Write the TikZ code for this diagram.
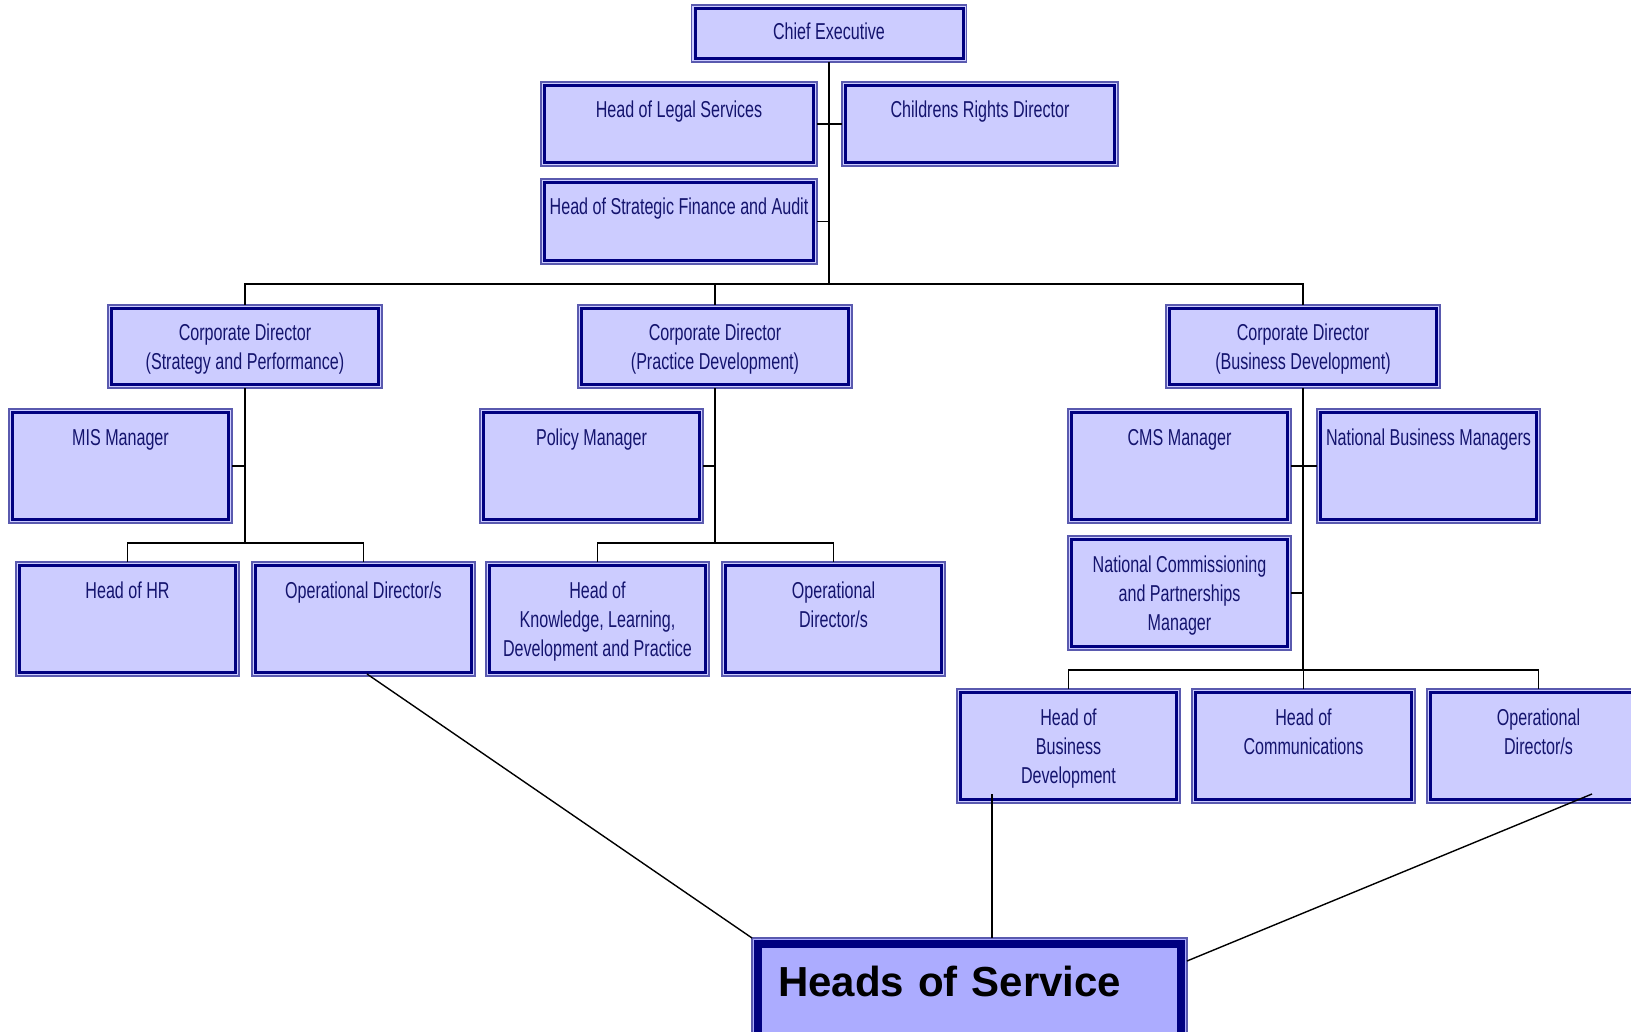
\documentclass[tikz,border=0pt]{standalone}
\usepackage{fontspec}
\usetikzlibrary{calc}
\newfontfamily\orgfont[FakeStretch=0.7]{Liberation Sans}
\newfontfamily\hosfont{Liberation Sans}
\definecolor{boxfill}{RGB}{204,204,255}
\definecolor{hosfill}{RGB}{172,172,255}
\definecolor{boxedge}{RGB}{90,90,175}
\definecolor{navyline}{RGB}{0,0,128}
\definecolor{navytext}{RGB}{20,20,110}
\tikzset{
  % framed box: thin outer edge plus a thick navy inner frame;
  % args: width, height above the last baseline, depth below it
  orgbox/.style n args={3}{
    draw=boxedge, line width=1.2, fill=boxfill, anchor=north,
    outer sep=0, inner xsep=2, inner ysep=0,
    minimum width=#1, text height=#2, text depth=#3,
    align=center, text=navytext,
    font=\orgfont\fontsize{23}{29}\selectfont,
    path picture={\draw[navyline, line width=3]
      ([xshift=3.5,yshift=-3.5]path picture bounding box.north west) rectangle
      ([xshift=-3.5,yshift=3.5]path picture bounding box.south east);}
  },
  hosbox/.style={
    draw=boxedge, line width=1.2, fill=hosfill, anchor=north,
    outer sep=0, inner xsep=26, inner ysep=0,
    text width=383, text height=58, text depth=49,
    align=left, text=black,
    font=\hosfont\fontsize{42}{50}\selectfont\bfseries,
    path picture={\draw[navyline, line width=8]
      ([xshift=6,yshift=-6]path picture bounding box.north west) rectangle
      ([xshift=-6,yshift=6]path picture bounding box.south east);}
  },
  wire/.style={draw=black, line width=1.4}
}
\begin{document}
\begin{tikzpicture}[x=1pt, y=-1pt]
\useasboundingbox[fill=white] (0,0) rectangle (1631,1032);

% top level
\node[orgbox={275}{35}{22}] (ce) at (829,5) {Chief Executive};
\node[orgbox={276}{36}{48}] (legal) at (679,82) {Head of Legal Services};
\node[orgbox={276}{36}{48}] (rights) at (980,82) {Childrens Rights Director};
\node[orgbox={276}{36}{49}] (fin) at (679,179) {Head of Strategic Finance and Audit};

% corporate directors
\node[orgbox={274}{64.5}{18.5}] (cdS) at (245,305) {Corporate Director\\(Strategy and Performance)};
\node[orgbox={274}{64.5}{18.5}] (cdP) at (715,305) {Corporate Director\\(Practice Development)};
\node[orgbox={274}{64.5}{18.5}] (cdB) at (1303,305) {Corporate Director\\(Business Development)};

% managers
\node[orgbox={223}{36}{78}] (mis) at (120.5,409) {MIS Manager};
\node[orgbox={223}{36}{78}] (policy) at (591.5,409) {Policy Manager};
\node[orgbox={223}{36}{78}] (cms) at (1179.5,409) {CMS Manager};
\node[orgbox={223}{36}{78}] (nbm) at (1428.5,409) {National Business Managers};
\node[orgbox={223}{94}{20}] (ncp) at (1179.5,536) {National Commissioning\\and Partnerships\\Manager};

% heads and operational directors
\node[orgbox={223}{36}{78}] (hr) at (127.5,562) {Head of HR};
\node[orgbox={223}{36}{78}] (opS) at (363.5,562) {Operational Director/s};
\node[orgbox={223}{94}{20}] (hk) at (597.5,562) {Head of\\Knowledge, Learning,\\Development and Practice};
\node[orgbox={223}{65}{49}] (opP) at (833.5,562) {Operational\\Director/s};
\node[orgbox={223}{94}{20}] (hbd) at (1068.5,689) {Head of\\Business\\Development};
\node[orgbox={223}{65}{49}] (hc) at (1303.5,689) {Head of\\Communications};
\node[orgbox={223}{65}{49}] (opB) at (1538.5,689) {Operational\\Director/s};

\node[hosbox] (hos) at (969.5,938) {Heads of Service};

% reporting lines
\coordinate (trunk) at (829,284);
\draw[wire] (ce.south) -- (trunk);
\draw[wire] (legal.east) -- (rights.west);
\draw[wire] (fin.east) -- (fin.east -| trunk);
\draw[wire] (cdS.north) -- ++(0,-21) -| (cdB.north);
\draw[wire] (cdP.north) -- (cdP.north |- trunk);

\draw[wire] (cdS.south) -- ++(0,155);
\draw[wire] (mis.east) -- (mis.east -| cdS.south);
\draw[wire] (hr.north) -- ++(0,-19) -| (opS.north);

\draw[wire] (cdP.south) -- ++(0,155);
\draw[wire] (policy.east) -- (policy.east -| cdP.south);
\draw[wire] (hk.north) -- ++(0,-19) -| (opP.north);

\draw[wire] (cdB.south) -- ++(0,282);
\draw[wire] (cms.east) -- (nbm.west);
\draw[wire] (ncp.east) -- (ncp.east -| cdB.south);
\draw[wire] (hbd.north) -- ++(0,-19) -| (opB.north);
\draw[wire] (hc.north) -- ++(0,-19);

% links to the heads of service
\coordinate (fromS) at (367,674);
\coordinate (fromD) at (992,794);
\coordinate (fromB) at (1592,794);
\draw[wire] (fromS) -- (hos.north west);
\draw[wire] (fromD) -- (fromD |- hos.north);
\draw[wire] (fromB) -- ($(hos.north east)+(0,23)$);
\end{tikzpicture}
\end{document}
